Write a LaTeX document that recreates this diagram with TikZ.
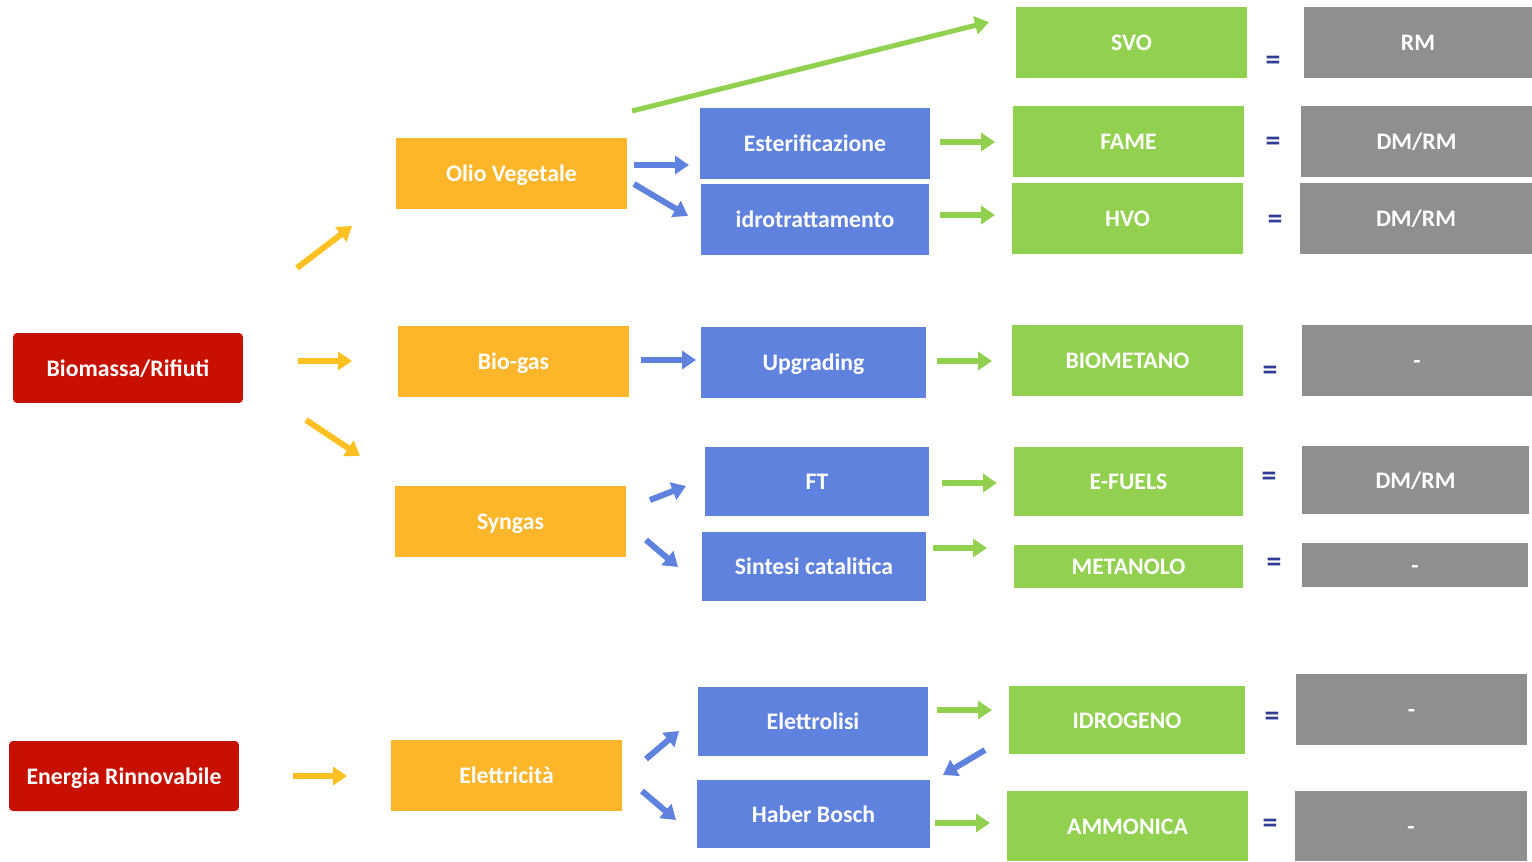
\documentclass[tikz,border=0pt]{standalone}
\usepackage{fontspec}
\setmainfont{Carlito}
\usetikzlibrary{arrows.meta}
\definecolor{rosso}{RGB}{200,16,0}
\definecolor{arancio}{RGB}{253,181,42}
\definecolor{giallo}{RGB}{255,193,34}
\definecolor{blu}{RGB}{95,130,222}
\definecolor{verde}{RGB}{146,208,80}
\definecolor{grigio}{RGB}{143,143,143}
\definecolor{blunotte}{RGB}{47,61,150}

\begin{document}
\begin{tikzpicture}[x=0.02cm, y=-0.02cm,
  box/.style={text=white, font=\bfseries\fontsize{13.5}{16}\selectfont,
    inner sep=0pt, text height=9.5pt, text depth=0.3pt,
    minimum width=4.62cm, minimum height=1.42cm},
  redbox/.style={box, fill=rosso, rounded corners=0.08cm,
    minimum width=4.6cm, minimum height=1.4cm},
  orabox/.style={box, fill=arancio},
  blubox/.style={box, fill=blu},
  grnbox/.style={box, fill=verde},
  grybox/.style={box, fill=grigio},
  eqsign/.style={text=blunotte, font=\bfseries\fontsize{17}{19}\selectfont,
    yshift=-0.06cm},
  arr/.style={line width=0.12cm, -{Triangle[length=0.28cm, width=0.36cm]}},
  yarr/.style={arr, giallo}, barr/.style={arr, blu}, garr/.style={arr, verde}]
\useasboundingbox (0,0) rectangle (1532,862);

% sources
\node[redbox] (biom) at (128,368) {Biomassa/Rifiuti};
\node[redbox] (enrin) at (124,776) {Energia Rinnovabile};

% intermediates
\node[orabox] (olio) at (511.5,173.5) {Olio Vegetale};
\node[orabox] (biogas) at (513.5,361.5) {Bio-gas};
\node[orabox] (syngas) at (510.5,521.5) {Syngas};
\node[orabox] (elettr) at (506.5,775.5) {Elettricità};

% processes
\node[blubox, minimum width=4.6cm] (ester) at (815,143.5) {Esterificazione};
\node[blubox, minimum width=4.56cm] (idro) at (815,219.5) {idrotrattamento};
\node[blubox, minimum width=4.5cm] (upgr) at (813.5,362.5) {Upgrading};
\node[blubox, minimum width=4.48cm, minimum height=1.38cm] (ft) at (817,481.5) {FT};
\node[blubox, minimum width=4.48cm, minimum height=1.38cm] (sintesi) at (814,566.5) {Sintesi catalitica};
\node[blubox, minimum width=4.6cm, minimum height=1.38cm] (elisi) at (813,721.5) {Elettrolisi};
\node[blubox, minimum width=4.66cm, minimum height=1.36cm] (haber) at (813.5,814) {Haber Bosch};

% products
\node[grnbox] (svo) at (1131.5,42.5) {SVO};
\node[grnbox] (fame) at (1128.5,141.5) {FAME};
\node[grnbox] (hvo) at (1127.5,218.5) {HVO};
\node[grnbox] (biomet) at (1127.5,360.5) {BIOMETANO};
\node[grnbox, minimum width=4.58cm, minimum height=1.38cm] (efuel) at (1128.5,481.5) {E-FUELS};
\node[grnbox, minimum width=4.58cm, minimum height=0.86cm] (metan) at (1128.5,566.5) {METANOLO};
\node[grnbox, minimum width=4.72cm, minimum height=1.36cm] (idrog) at (1127,720) {IDROGENO};
\node[grnbox, minimum width=4.82cm, minimum height=1.4cm] (ammon) at (1127.5,826) {AMMONICA};

% equivalences
\node[grybox, minimum width=4.56cm] (g1) at (1418,42.5) {RM};
\node[grybox] (g2) at (1416.5,141.5) {DM/RM};
\node[grybox, minimum width=4.64cm] (g3) at (1416,218.5) {DM/RM};
\node[grybox, minimum width=4.6cm] (g4) at (1417,360.5) {-};
\node[grybox, minimum width=4.54cm, minimum height=1.36cm] (g5) at (1415.5,480) {DM/RM};
\node[grybox, minimum width=4.52cm, minimum height=0.88cm] (g6) at (1415,565) {-};
\node[grybox] (g7) at (1411.5,709.5) {-};
\node[grybox, minimum width=4.64cm, minimum height=1.4cm] (g8) at (1411,826) {-};

\foreach \n/\x/\y in {e1/1273/60, e2/1273/141, e3/1275/219, e4/1270/370,
  e5/1269/476, e6/1274/562, e7/1272/716, e8/1270/823}
  \node[eqsign] (\n) at (\x,\y) {=};

% arrow ends
\foreach \n/\x/\y in {y1s/297/268, y1e/352/226, y2s/298/361, y2e/352/361,
  y3s/306/420, y3e/360/456, y4s/293/776, y4e/347/776,
  b1s/634/165, b1e/689/165, b2s/634/184, b2e/688/216,
  b3s/641/360, b3e/696/360, b4s/650/500, b4e/686/486,
  b5s/646/540, b5e/678/567, b6s/646/759, b6e/679/731,
  b7s/642/791, b7e/676/820, b8s/985/750, b8e/943/775,
  g0s/632/111, g0e/989/22, g1s/940/142, g1e/995/142,
  g2s/940/215, g2e/995/215, g3s/937/361, g3e/992/361,
  g4s/942/483, g4e/997/483, g5s/933/548, g5e/987/548,
  g6s/937/710, g6e/992/710, g7s/935/823, g7e/990/823}
  \coordinate (\n) at (\x,\y);

\foreach \a in {y1, y2, y3, y4}
  \draw[yarr] (\a s) -- (\a e);
\foreach \a in {b1, b2, b3, b4, b5, b6, b7, b8}
  \draw[barr] (\a s) -- (\a e);
\foreach \a in {g1, g2, g3, g4, g5, g6, g7}
  \draw[garr] (\a s) -- (\a e);
\draw[garr, line width=0.1cm] (g0s) -- (g0e);
\end{tikzpicture}
\end{document}
